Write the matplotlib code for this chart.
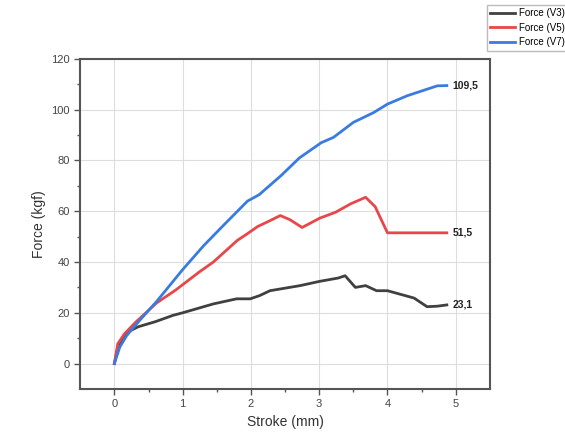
import matplotlib.pyplot as plt

plt.rcParams['font.family'] = ['Liberation Sans', 'DejaVu Sans']

# stroke (mm) / force (kgf)
x_v3 = [0, 0.05, 0.1, 0.2, 0.35, 0.6, 0.86, 1.0, 1.45, 1.79, 1.99, 2.13, 2.28, 2.72, 3.01, 3.28, 3.38, 3.53, 3.68, 3.84, 4.0, 4.39, 4.58, 4.73, 4.87]
f_v3 = [0, 6.0, 9.0, 12.5, 14.5, 16.5, 19.0, 20.0, 23.5, 25.5, 25.5, 26.8, 28.7, 30.7, 32.4, 33.7, 34.6, 30.0, 30.7, 28.7, 28.7, 25.8, 22.4, 22.6, 23.1]
x_v5 = [0, 0.05, 0.15, 0.32, 0.62, 0.9, 1.24, 1.45, 1.8, 1.94, 2.1, 2.28, 2.43, 2.57, 2.75, 3.01, 3.24, 3.46, 3.68, 3.82, 4.0, 4.87]
f_v5 = [0, 7.8, 11.8, 16.5, 23.9, 29.0, 36.0, 40.0, 48.5, 51.0, 54.0, 56.3, 58.3, 56.7, 53.6, 57.3, 59.6, 62.9, 65.5, 61.8, 51.5, 51.5]
x_v7 = [0, 0.08, 0.18, 0.37, 0.62, 1.0, 1.31, 1.6, 1.95, 2.12, 2.44, 2.71, 3.03, 3.21, 3.5, 3.8, 4.0, 4.29, 4.73, 4.87]
f_v7 = [0, 6.5, 11.0, 17.0, 24.5, 37.0, 46.5, 54.5, 64.0, 66.5, 74.0, 81.0, 87.0, 89.1, 95.0, 98.9, 102.2, 105.5, 109.4, 109.5]
names = ['Force (V3)', 'Force (V5)', 'Force (V7)']
end_labels = ['23,1', '51,5', '109,5']

fig = plt.figure(figsize=(5.65, 4.43), dpi=100)
ax = fig.add_axes([0.142, 0.122, 0.725, 0.745])

cols = ['#404040', '#e8474a', '#3a7be0']
series = [(x_v3, f_v3), (x_v5, f_v5), (x_v7, f_v7)]
for (xs, ys), c, n, lab in zip(series, cols, names, end_labels):
    ax.plot(xs, ys, color=c, lw=2, label=n)
    ax.text(xs[-1] + 0.08, ys[-1], lab, fontsize=7.5, fontweight='bold', va='center', ha='left', color='#222222')

ax.set_xlim(-0.5, 5.5)
ax.set_ylim(-10, 120)
ax.set_xticks([0, 1, 2, 3, 4, 5])
ax.set_xticks([0.5, 1.5, 2.5, 3.5, 4.5], minor=True)
ax.set_yticks([0, 20, 40, 60, 80, 100, 120])
ax.set_yticks([10, 30, 50, 70, 90, 110], minor=True)
ax.grid(True, which='major', color='#dddddd', lw=0.8)
ax.set_axisbelow(True)
for s in ax.spines.values():
    s.set_linewidth(1.5)
    s.set_color('#555555')
ax.tick_params(which='major', length=4, width=1, colors='#555555', labelcolor='#444444', labelsize=8, top=False, right=False)
ax.tick_params(which='minor', length=2.5, width=1, colors='#555555')
ax.set_xlabel('Stroke (mm)', fontsize=10, color='#333333')
ax.set_ylabel('Force (kgf)', fontsize=10, color='#333333')

fig.legend(loc='upper left', bbox_to_anchor=(487 / 565, 1 - 5 / 443), fontsize=7, frameon=True,
           fancybox=False, edgecolor='#aaaaaa', handlelength=2.5, handletextpad=0.4,
           borderpad=0.35, borderaxespad=0, labelspacing=0.45)

fig.savefig('out.png', dpi=100)
